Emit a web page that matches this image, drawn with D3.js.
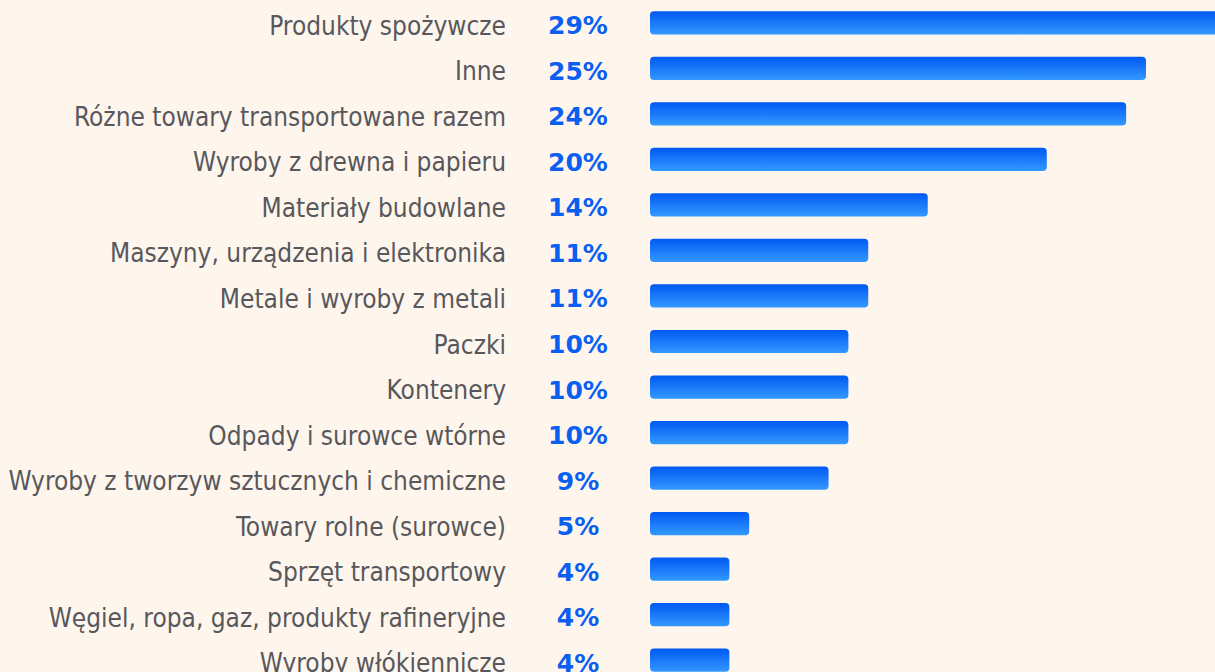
<!DOCTYPE html>
<html>
<head>
<meta charset="utf-8">
<script src="https://cdn.jsdelivr.net/npm/d3@7"></script>
<style>
  html, body { margin: 0; padding: 0; background: #fef6ed; }
  svg { display: block; }
</style>
</head>
<body>
<div id="chart"></div>
<script>
const categories = [
  "Produkty spożywcze",
  "Inne",
  "Różne towary transportowane razem",
  "Wyroby z drewna i papieru",
  "Materiały budowlane",
  "Maszyny, urządzenia i elektronika",
  "Metale i wyroby z metali",
  "Paczki",
  "Kontenery",
  "Odpady i surowce wtórne",
  "Wyroby z tworzyw sztucznych i chemiczne",
  "Towary rolne (surowce)",
  "Sprzęt transportowy",
  "Węgiel, ropa, gaz, produkty rafineryjne",
  "Wyroby włókiennicze"
];
const shares = [29, 25, 24, 20, 14, 11, 11, 10, 10, 10, 9, 5, 4, 4, 4];

const width = 1215;
const height = 672;

const svg = d3.select("#chart").append("svg")
  .attr("width", width).attr("height", height);

// gradient for bars
const defs = svg.append("defs");
const grad = defs.append("linearGradient")
  .attr("id", "barGrad").attr("x1", 0).attr("y1", 0).attr("x2", 0).attr("y2", 1);
grad.append("stop").attr("offset", "0%").attr("stop-color", "#0059f2");
grad.append("stop").attr("offset", "100%").attr("stop-color", "#3399ff");

const x = d3.scaleLinear().domain([0, 25]).range([650, 1146]);
const y = d3.scaleBand().domain(categories).range([0, 683]).paddingInner(0.49).paddingOuter(0.245);

const rows = svg.selectAll("g.row").data(categories).join("g").attr("class", "row");

rows.append("rect")
  .attr("x", x(0))
  .attr("y", d => y(d))
  .attr("width", (d, i) => x(shares[i]) - x(0))
  .attr("height", y.bandwidth())
  .attr("rx", 4)
  .attr("fill", "url(#barGrad)");

// category labels
rows.append("text")
  .attr("x", 506)
  .attr("y", d => y(d) + y.bandwidth() / 2 + 12)
  .attr("text-anchor", "end")
  .attr("font-family", "'DejaVu Sans Condensed', 'DejaVu Sans', sans-serif")
  .attr("font-stretch", "condensed")
  .attr("font-size", "26px")
  .attr("fill", "#58585c")
  .text(d => d);

// value labels
rows.append("text")
  .attr("x", 578)
  .attr("y", d => y(d) + y.bandwidth() / 2 + 11.5)
  .attr("text-anchor", "middle")
  .attr("font-family", "'DejaVu Sans', sans-serif")
  .attr("font-weight", "bold")
  .attr("font-size", "25px")
  .attr("fill", "#0a5ef2")
  .text((d, i) => shares[i] + "%");
</script>
</body>
</html>
